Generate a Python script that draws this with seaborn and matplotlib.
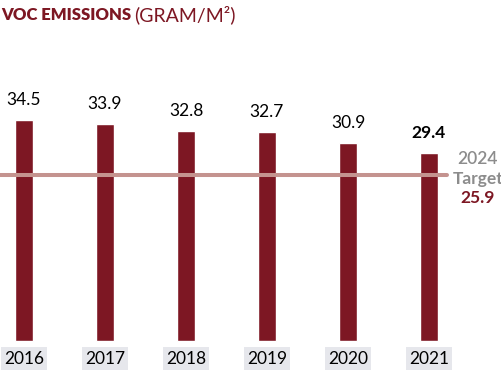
import matplotlib
matplotlib.use("Agg")
import matplotlib.pyplot as plt
from matplotlib.patches import Rectangle
import pandas as pd
import seaborn as sns

# ===[ Data: ]=================================================================
years = ["2016", "2017", "2018", "2019", "2020", "2021"]
voc = [34.5, 33.9, 32.8, 32.7, 30.9, 29.4]
target_year = "2024"
target_value = 25.9

BAR = "#7d1723"
LINE = "#c4938f"
GREY = "#8c8c8c"
BOX = "#e6e7ec"


def main():
    sns.set_theme(style="white")
    plt.rcParams["font.family"] = ["Lato", "DejaVu Sans"]

    W, H = 502, 373
    fig = plt.figure(figsize=(W / 100, H / 100), dpi=100)
    ax = fig.add_axes([0, 0, 1, 1])

    df = pd.DataFrame({"year": years, "voc": voc})
    sns.barplot(data=df, x="year", y="voc", color=BAR, width=18 / 81,
                saturation=1, ax=ax, zorder=2)

    # pixel geometry: bar centres 24 + 81*i, baseline at y=341, 6.4 px/unit
    px_unit = 6.4
    base = 341
    ax.set_xlim(-24 / 81, (W - 24) / 81)
    ax.set_ylim(-(H - base) / px_unit, base / px_unit)

    # target line
    ax.axhline(target_value, xmin=0, xmax=447 / W, color=LINE, lw=2.9,
               solid_capstyle="round", zorder=3)

    # value labels
    for i, v in enumerate(voc):
        last = i == len(voc) - 1
        ax.text(i, v + 3.1, f"{v:.1f}", ha="center", va="center",
                fontsize=12.5, color="black",
                fontweight="bold" if last else "normal")

    # year boxes
    for i, y in enumerate(years):
        ax.add_patch(Rectangle((i - 0.29, -29 / px_unit), 0.58, 23 / px_unit,
                               facecolor=BOX, edgecolor="none", zorder=1))
        ax.text(i, -17.5 / px_unit, y, ha="center", va="center",
                fontsize=12.5, color="black")

    # target label
    fig.text(478 / W, 1 - 159 / H, target_year, ha="center", va="center",
             fontsize=12.5, color=GREY, fontweight="semibold")
    fig.text(478 / W, 1 - 179 / H, "Target", ha="center", va="center",
             fontsize=12.5, color=GREY, fontweight="bold")
    fig.text(478 / W, 1 - 198 / H, f"{target_value}", ha="center",
             va="center", fontsize=12.5, color=BAR, fontweight="bold")

    # title
    t1 = fig.text(1 / W, 1 - 15 / H, "VOC EMISSIONS", ha="left", va="center",
                  fontsize=12, color=BAR, fontweight="heavy")
    fig.canvas.draw()
    bb = t1.get_window_extent()
    fig.text(bb.x1 / W + 3 / W, 1 - 15 / H, "(GRAM/M²)", ha="left",
             va="center", fontsize=14, color=BAR)

    ax.set_axis_off()
    fig.savefig("out.png", dpi=100)


if __name__ == "__main__":
    main()
